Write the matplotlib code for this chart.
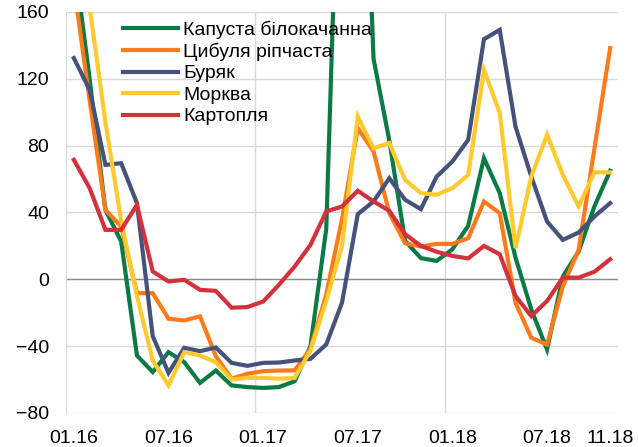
import matplotlib
matplotlib.use('Agg')
import matplotlib.pyplot as plt

plt.rcParams['font.family'] = ['Liberation Sans', 'DejaVu Sans']

# 1. DATA (monthly, 01.16 - 11.18, % y/y)

months = ['01.16', '02.16', '03.16', '04.16', '05.16', '06.16', '07.16', '08.16', '09.16', '10.16', '11.16', '12.16',
          '01.17', '02.17', '03.17', '04.17', '05.17', '06.17', '07.17', '08.17', '09.17', '10.17', '11.17', '12.17',
          '01.18', '02.18', '03.18', '04.18', '05.18', '06.18', '07.18', '08.18', '09.18', '10.18', '11.18']

cabbage = [193, 120, 41.6, 22.6, -45.6, -55.5, -43.6, -49.6, -62, -54.6, -63.5, -64.5,
           -65, -64.5, -61, -40, 30, 330, 380, 132, 83, 23, 12.7, 11, 18,
           32, 72.5, 51.6, 13, -18, -42, 1.7, 16.6, 43.6, 65]
onion = [176, 107, 41.6, 31.6, -8.3, -8.3, -23.6, -24.6, -22.2, -46, -59.5, -56.5,
         -55, -54.6, -54.5, -41.6, -9, 36, 90.5, 76.5, 39.6, 21.6, 19.6, 21.2, 21.2,
         24.6, 46.6, 39.6, -14, -35, -39, -4.3, 17.6, 78, 138.4]
beet = [132.4, 113.4, 68.5, 69.5, 45.6, -34, -56, -41, -43, -40.8, -50, -51.8,
        -50, -49.8, -48.6, -47.6, -39, -14, 39, 46.6, 60.5, 47.6, 42, 61.5, 70.5,
        83.5, 143.7, 149.3, 91.4, 61.5, 34.6, 23.6, 28, 37.6, 45.6]
carrot = [240, 163, 94, 35, -10, -48.6, -63.5, -43.6, -45.6, -49.6, -60, -59,
          -59, -59.5, -59, -42.6, -13, 20, 97.4, 78.5, 81.5, 59.5, 51.6, 50.6, 54.6,
          62.5, 125.4, 99.5, 18.7, 61.5, 86.5, 62.5, 43.6, 64, 64]
potato = [71.5, 54.6, 29.6, 29.6, 44.6, 4.7, -1.3, -0.3, -6.3, -6.9, -17, -16.6,
          -13.3, -3.3, 7.7, 20.6, 40.6, 43.6, 53, 46.6, 41, 27, 20, 16.5, 14,
          12.5, 20, 15, -10, -22, -13, 1, 1, 4.5, 12]

series = [
    ('Капуста білокачанна', cabbage, '#0B7B45'),
    ('Цибуля ріпчаста', onion, '#FB7B1B'),
    ('Буряк', beet, '#44527C'),
    ('Морква', carrot, '#FFCA2E'),
    ('Картопля', potato, '#D3313C'),
]

tick_pos = [0, 6, 12, 18, 24, 30, 34]
y_ticks = [-80, -40, 0, 40, 80, 120, 160]


# 2. PLOT

fig = plt.figure(figsize=(6.38, 4.47), dpi=100)
ax = fig.add_axes([0.1034, 0.0761, 0.8653, 0.8971])

x = list(range(len(months)))
for name, vals, col in series:
    ax.plot(x, vals, color=col, linewidth=3, label=name, solid_joinstyle='miter', zorder=3)

ax.set_xlim(-0.5, len(months) - 0.5)
ax.set_ylim(-80, 160)

# grid: horizontal every 40, vertical at year boundaries
ax.set_yticks(y_ticks)
for yv in y_ticks:
    ax.axhline(yv, color='#D9D9D9', linewidth=1, zorder=1)
for xv in [11.5, 23.5]:
    ax.axvline(xv, color='#D9D9D9', linewidth=1, zorder=1)
ax.axhline(0, color='#8C8C8C', linewidth=1, zorder=2)

ax.set_xticks(tick_pos)
ax.set_xticklabels([months[i] for i in tick_pos])
ax.tick_params(axis='both', length=0, labelsize=14)
ax.tick_params(axis='y', pad=12)
ax.tick_params(axis='x', pad=12)

for s in ['top', 'right', 'bottom']:
    ax.spines[s].set_visible(False)
ax.spines['left'].set_color('#D9D9D9')

ax.legend(loc='upper left', bbox_to_anchor=(0.1, 0.984), frameon=False, fontsize=14,
          handlelength=2.8, handletextpad=0.3, labelspacing=0.2, borderpad=0.1,
          borderaxespad=0)

fig.savefig('out.png', dpi=100)
